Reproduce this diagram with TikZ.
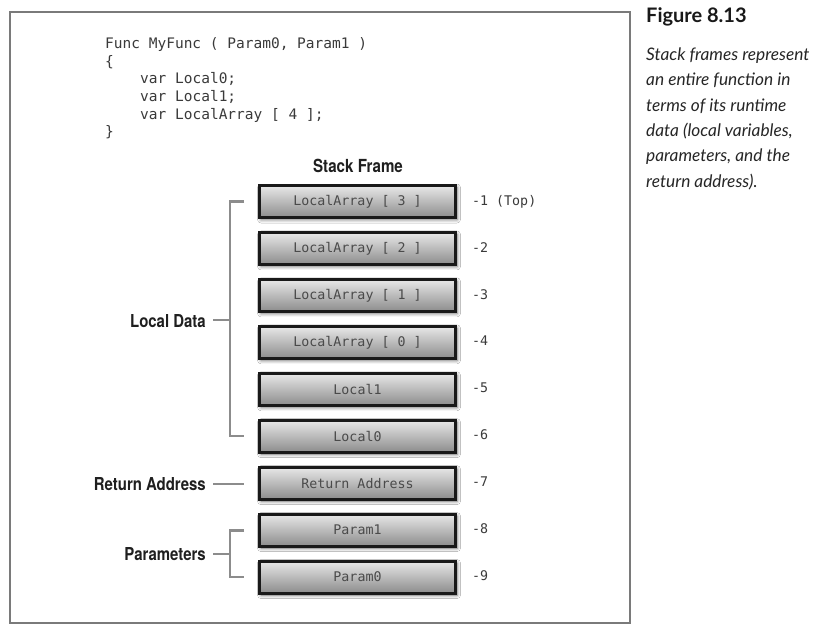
\documentclass[tikz,border=0pt]{standalone}
\usepackage{fontspec}
\usetikzlibrary{shadows.blur}
\setmainfont{Liberation Sans}
\newfontfamily\codefont{DejaVu Sans Mono}
\newfontfamily\condfont[FakeStretch=0.84]{TeX Gyre Heros}
\newfontfamily\capfont{Lato}
\definecolor{codegray}{HTML}{3A3A3A}
\definecolor{slottext}{HTML}{4A4A4A}
\definecolor{framegray}{HTML}{7A7A7A}
\definecolor{brkgray}{HTML}{8C8C8C}
\begin{document}
\begin{tikzpicture}[x=1pt,y=-1pt,
  frame/.style={draw=framegray, line width=2pt},
  codeline/.style={anchor=mid west, inner sep=0pt, font=\codefont\fontsize{14.5}{17}\selectfont, text=codegray},
  slot/.style={draw=black!90, line width=3pt, minimum width=196pt, minimum height=32pt,
    top color=black!9, bottom color=black!45,
    blur shadow={shadow xshift=1.5pt, shadow yshift=-2pt, shadow blur radius=3.5pt, shadow opacity=60},
    font=\codefont\fontsize{13.3}{15}\selectfont, text=slottext, inner sep=0pt},
  offset/.style={anchor=mid west, inner sep=0pt, font=\codefont\fontsize{13.3}{15}\selectfont, text=codegray},
  grp/.style={anchor=base east, inner sep=0pt, font=\condfont\bfseries\fontsize{17.8}{20}\selectfont, text=black!88},
  brk/.style={draw=brkgray, line width=2.5pt},
  capline/.style={anchor=mid west, inner sep=0pt, font=\capfont\itshape\fontsize{17.3}{20}\selectfont, text=black!85}
]
\useasboundingbox (0,0) rectangle (833,630);
\fill[white] (0,0) rectangle (833,630);
\draw[frame] (9.5,11.5) rectangle (629.5,622.5);

% code
\node[codeline] (c1) at (105,46) {Func MyFunc ( Param0, Param1 )};
\node[codeline] (c2) at (105,63.5) {\{};
\node[codeline] (c3) at (140,81) {var Local0;};
\node[codeline] (c4) at (140,99) {var Local1;};
\node[codeline] (c5) at (140,117) {var LocalArray [ 4 ];};
\node[codeline] (c6) at (105,134) {\}};

% title
\node[anchor=base, inner sep=0pt, font=\condfont\bfseries\fontsize{18}{20}\selectfont, text=black!88] (title) at (358,172.5) {Stack Frame};

% slots
\foreach \name/\txt/\off [count=\i from 0] in {
  la3/{LocalArray [ 3 ]}/{-1 (Top)},
  la2/{LocalArray [ 2 ]}/{-2},
  la1/{LocalArray [ 1 ]}/{-3},
  la0/{LocalArray [ 0 ]}/{-4},
  l1/{Local1}/{-5},
  l0/{Local0}/{-6},
  ra/{Return Address}/{-7},
  p1/{Param1}/{-8},
  p0/{Param0}/{-9}} {
  \node[slot] (\name) at (357.5,{201.5+46.94*\i}) {\txt};
  \node[offset] (off\name) at (472,{202.5+46.94*\i}) {\off};
}

% group labels
\node[grp] (ld) at (206,327.5) {Local Data};
\node[grp] (rl) at (206,490.5) {Return Address};
\node[grp] (pl) at (206,560.5) {Parameters};

% brackets
\coordinate (ldt) at (244,201.5);
\coordinate (ldtc) at (230,201.5);
\coordinate (ldbc) at (230,436.2);
\coordinate (ldb) at (244,436.2);
\coordinate (ldm) at (230,320);
\draw[brk] (ldt) -- (ldtc) -- (ldbc) -- (ldb);
\draw[brk] ([xshift=7pt]ld.east |- ldm) -- (ldm);

\coordinate (rae) at (244,484.2);
\draw[brk] ([xshift=7pt]rl.east |- rae) -- (rae);

\coordinate (pt) at (244,530.5);
\coordinate (ptc) at (230,530.5);
\coordinate (pbc) at (230,577);
\coordinate (pb) at (244,577);
\coordinate (pm) at (230,554);
\draw[brk] (pt) -- (ptc) -- (pbc) -- (pb);
\draw[brk] ([xshift=7pt]pl.east |- pm) -- (pm);

% caption
\node[anchor=mid west, inner sep=0pt, font=\capfont\bfseries\fontsize{20}{22}\selectfont, text=black!90] (fig) at (646,20) {Figure 8.13};
\node[capline] (cap1) at (646,58) {Stack frames represent};
\node[capline] (cap2) at (646,83.3) {an entire function in};
\node[capline] (cap3) at (646,108.6) {terms of its runtime};
\node[capline] (cap4) at (646,133.9) {data (local variables,};
\node[capline] (cap5) at (646,159.2) {parameters, and the};
\node[capline] (cap6) at (646,184.5) {return address).};
\end{tikzpicture}
\end{document}
